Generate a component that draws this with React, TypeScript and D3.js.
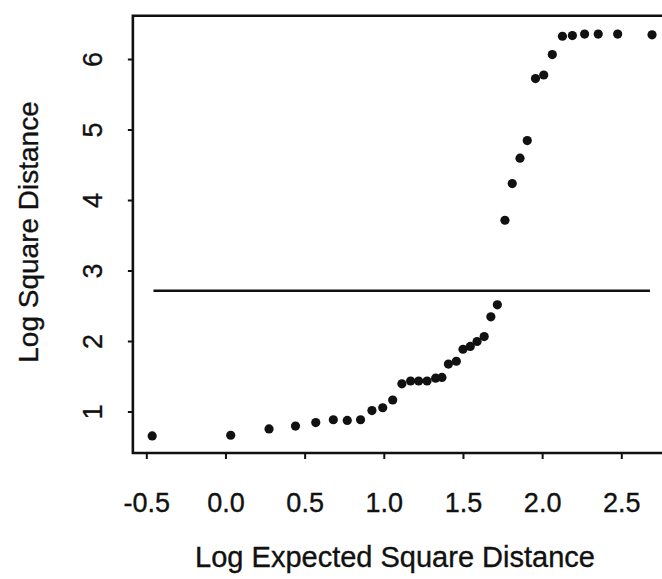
import React from 'react';
import * as d3 from 'd3';

// log expected square distance vs log square distance
const expected = [
  -0.466, 0.03, 0.272, 0.439, 0.567, 0.678, 0.766, 0.85, 0.922, 0.99,
  1.053, 1.111, 1.166, 1.217, 1.27, 1.324, 1.364, 1.405, 1.455, 1.497,
  1.543, 1.586, 1.631, 1.673, 1.714, 1.762, 1.808, 1.857, 1.903, 1.955,
  2.007, 2.061, 2.125, 2.188, 2.265, 2.351, 2.474, 2.691,
];
const observed = [
  0.66, 0.67, 0.76, 0.8, 0.85, 0.89, 0.88, 0.89, 1.02, 1.06,
  1.17, 1.4, 1.44, 1.44, 1.44, 1.48, 1.49, 1.68, 1.72, 1.89,
  1.93, 2.0, 2.07, 2.35, 2.52, 3.72, 4.24, 4.6, 4.85, 5.73,
  5.78, 6.07, 6.33, 6.34, 6.36, 6.36, 6.36, 6.35,
];
const xTicks = [-0.5, 0, 0.5, 1, 1.5, 2, 2.5];
const yTicks = [1, 2, 3, 4, 5, 6];
const refLevel = 2.72;
const refRange = [-0.458, 2.678];

const W = 662;
const H = 579;
const font = '"Liberation Sans", Arial, Helvetica, sans-serif';
const ink = '#111';

const App = () => {
  const x = d3.scaleLinear().domain([-0.5, 2.5]).range([146.8, 621.8]);
  const y = d3.scaleLinear().domain([1, 6]).range([412, 59.5]);

  // plot region (right edge falls just outside the picture)
  const left = x(-0.588);
  const right = x(2.775);
  const top = y(6.62);
  const bottom = y(0.418);

  const pts = expected.map((e, i) => [e, observed[i]]);
  const textProps = { fill: ink, stroke: ink, strokeWidth: 0.35 };

  return (
    <svg
      width={W}
      height={H}
      style={{ position: 'absolute', left: 0, top: 0, background: '#fff' }}
      fontFamily={font}
    >
      {/* box */}
      <path
        d={`M${right},${top}H${left}V${bottom}H${right}`}
        fill="none"
        stroke={ink}
        strokeWidth={2.6}
      />

      {/* x ticks */}
      {xTicks.map((t) => (
        <g key={t} transform={`translate(${x(t)},0)`}>
          <line y1={bottom} y2={bottom + 6} stroke={ink} strokeWidth={2} />
          <text y={512} textAnchor="middle" fontSize={27} {...textProps}>
            {d3.format('.1f')(t).replace('−', '-')}
          </text>
        </g>
      ))}

      {/* y ticks */}
      {yTicks.map((t) => (
        <g key={t} transform={`translate(0,${y(t)})`}>
          <line x1={left} x2={left - 5} stroke={ink} strokeWidth={2} />
          <text
            transform="translate(102,0) rotate(-90)"
            textAnchor="middle"
            fontSize={27}
            {...textProps}
          >
            {t}
          </text>
        </g>
      ))}

      {/* reference line */}
      <line
        x1={x(refRange[0])}
        x2={x(refRange[1])}
        y1={y(refLevel)}
        y2={y(refLevel)}
        stroke={ink}
        strokeWidth={2.6}
      />

      {/* points */}
      {pts.map(([e, o], i) => (
        <circle key={i} cx={x(e)} cy={y(o)} r={4.6} fill={ink} />
      ))}

      {/* axis titles */}
      <text x={395} y={567} textAnchor="middle" fontSize={29} {...textProps}>
        Log Expected Square Distance
      </text>
      <text
        transform="translate(38,232) rotate(-90)"
        textAnchor="middle"
        fontSize={28}
        {...textProps}
      >
        Log Square Distance
      </text>
    </svg>
  );
};

export default App;
